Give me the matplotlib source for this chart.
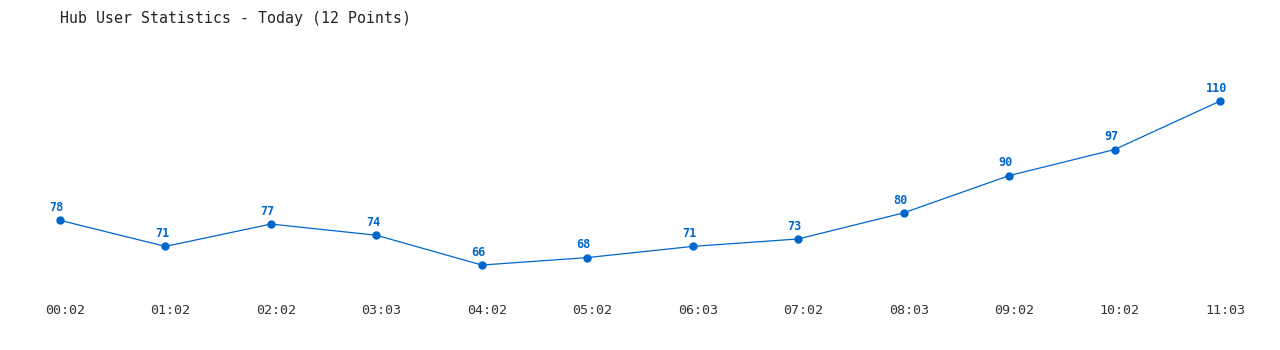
import matplotlib
matplotlib.use("Agg")
import matplotlib.pyplot as plt
import matplotlib.transforms as mtransforms

# hourly user counts
times = ["00:02", "01:02", "02:02", "03:03", "04:02", "05:02",
         "06:03", "07:02", "08:03", "09:02", "10:02", "11:03"]
users = [78, 71, 77, 74, 66, 68, 71, 73, 80, 90, 97, 110]

blue = "#0066cc"
mono = "DejaVu Sans Mono"

fig = plt.figure(figsize=(12.8, 3.5), dpi=100)
ax = fig.add_axes([60/1280, 1 - 290/350, 1160/1280, 250/350])

x = list(range(len(times)))
ax.plot(x, users, color=blue, lw=0.9, marker="o", ms=5, mec=blue, mfc=blue,
        clip_on=False)

for xi, v in zip(x, users):
    ax.annotate(str(v), (xi, v), xytext=(-2.5, 4.5), textcoords="offset points",
                ha="center", va="bottom", color=blue, fontsize=8.5,
                fontweight="bold", family=mono)

ax.set_xlim(0, len(times) - 1)
ax.set_ylim(59.3, 126.4)
ax.set_xticks(x)
ax.set_xticklabels(times, family=mono, fontsize=9.6, color="#333333")
ax.set_yticks([])
ax.tick_params(axis="x", length=0, pad=10)
# labels sit a little right of the points
shift = mtransforms.ScaledTranslation(5/100, 0, fig.dpi_scale_trans)
for lab in ax.get_xticklabels():
    lab.set_transform(lab.get_transform() + shift)
for s in ax.spines.values():
    s.set_visible(False)

fig.text(60/1280, 1 - 18/350, "Hub User Statistics - Today (12 Points)",
         family=mono, fontsize=10.7, color="#222222", va="center", ha="left")

fig.savefig("out.png", dpi=100)
